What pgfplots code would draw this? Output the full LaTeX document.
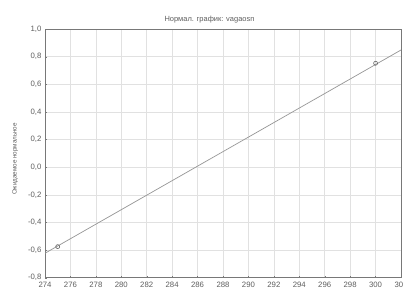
\documentclass[border=0pt]{standalone}
\usepackage{pgfplots}
\pgfplotsset{compat=1.18}
\usepackage{fontspec}
\setmainfont{Liberation Sans}
\definecolor{gridc}{RGB}{225,225,225}
\definecolor{framec}{RGB}{120,120,120}
\definecolor{linec}{RGB}{150,150,150}
\definecolor{textc}{RGB}{95,95,95}
\begin{document}
\begin{tikzpicture}
\path[use as bounding box] (0bp,0bp) rectangle (403bp,299bp);
\clip (0bp,0bp) rectangle (403bp,299bp);
\fill[white] (0bp,0bp) rectangle (403bp,299bp);
\begin{axis}[
  at={(45bp,21.3bp)}, anchor=south west,
  scale only axis,
  width=356bp, height=248.7bp,
  xmin=274, xmax=302, ymin=-0.8, ymax=1.0,
  xtick={274,276,...,302},
  ytick={-0.8,-0.6,...,1.0},
  /pgf/number format/assume math mode=true,
  /pgf/number format/use comma,
  /pgf/number format/fixed,
  /pgf/number format/fixed zerofill,
  /pgf/number format/precision=1,
  xticklabel style={/pgf/number format/precision=0, /pgf/number format/fixed zerofill=false},
  scaled ticks=false,
  grid=major,
  major grid style={gridc, line width=0.6pt},
  axis line style={framec, line width=0.8pt},
  tick style={framec},
  tick align=inside,
  major tick length=2pt,
  ticklabel style={font=\fontsize{7.8}{9}\selectfont, text=textc},
  xticklabel style={yshift=-1pt},
  xtick pos=bottom, ytick pos=left,
  clip=true,
]
\addplot[linec, line width=0.7pt] coordinates {(274,-0.623) (302,0.848)};
\addplot[only marks, mark=o, mark size=2pt, mark options={draw=black!60, line width=0.6pt}] coordinates {(275,-0.575) (300,0.752)};
\end{axis}
\node[font=\fontsize{7.5}{9}\selectfont, text=textc] at (209.5bp,279bp) {Нормал. график: vagaosn};
\node[font=\fontsize{6.3}{8}\selectfont, text=textc, rotate=90] at (15bp,140bp) {Ожидаемое нормальное};
\end{tikzpicture}
\end{document}
